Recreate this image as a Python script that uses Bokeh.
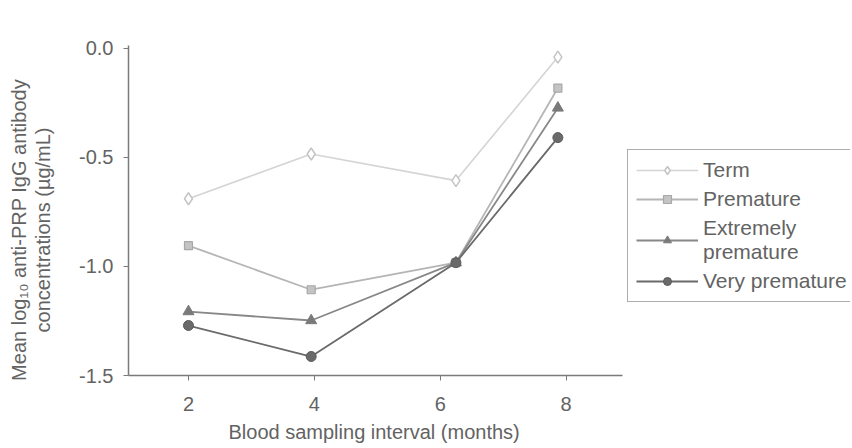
from bokeh.plotting import figure
from bokeh.models import Range1d, FixedTicker, Legend, LegendItem, PrintfTickFormatter, Title
from bokeh.embed import file_html
from bokeh.resources import INLINE

# ---- data ----
months = [2.0, 3.95, 6.25, 7.87]
term = [-0.69, -0.485, -0.607, -0.041]
premature = [-0.905, -1.107, -0.983, -0.183]
extremely = [-1.207, -1.248, -0.983, -0.274]
very = [-1.271, -1.413, -0.983, -0.41]
x_ticks = [2, 4, 6, 8]
y_ticks = [-1.5, -1.0, -0.5, 0.0]
x_title = "Blood sampling interval (months)"
y_title = "Mean log\u2081\u2080 anti-PRP IgG antibody\nconcentrations (\u00b5g/mL)"

FONT = "Liberation Sans"
TXT = "#636363"
FS = "20px"

p = figure(width=852, height=448, output_backend="svg", toolbar_location=None,
           x_range=Range1d(1.047, 12.52), y_range=Range1d(-1.5, 0.012))
p.min_border_left = 128
p.min_border_right = 2
p.min_border_top = 45
p.min_border_bottom = 72
p.outline_line_color = None
p.xgrid.visible = False
p.ygrid.visible = False
p.background_fill_color = "white"

for ax in (p.xaxis[0], p.yaxis[0]):
    ax.axis_line_color = "#7a7a7a"
    ax.axis_line_width = 1.5
    ax.major_tick_line_color = "#7a7a7a"
    ax.minor_tick_line_color = None
    ax.major_tick_in = 0
    ax.major_tick_out = 5
    ax.major_label_text_font = FONT
    ax.major_label_text_color = TXT
    ax.major_label_text_font_size = FS
    ax.axis_label_text_font = FONT
    ax.axis_label_text_color = TXT
    ax.axis_label_text_font_size = FS
    ax.axis_label_text_font_style = "normal"

p.xaxis.ticker = FixedTicker(ticks=x_ticks)
p.xaxis.bounds = (0.95, 8.894)
p.xaxis.major_label_standoff = 16

p.yaxis.ticker = FixedTicker(ticks=y_ticks)
p.yaxis.formatter = PrintfTickFormatter(format="%.1f")
pad = "\u00a0" * 7
p.yaxis.axis_label = "\n".join(line + pad for line in y_title.split("\n"))
p.yaxis.major_label_standoff = 10
p.yaxis.axis_label_standoff = 22
p.yaxis.axis_label_text_line_height = 1.1

# x-axis title under the tick labels, left-shifted as in the reference
xt = Title(text=x_title, align="left", offset=100, standoff=11,
           text_font=FONT, text_font_size=FS, text_font_style="normal",
           text_color=TXT)
p.add_layout(xt, "below")

r_t = p.line(months, term, line_color="#d4d4d4", line_width=1.6)
m_t = p.scatter(months, term, marker="diamond", size=12, fill_color="white",
                line_color="#c4c4c4", line_width=1.5)
r_p = p.line(months, premature, line_color="#b5b5b5", line_width=1.8)
m_p = p.scatter(months, premature, marker="square", size=8, fill_color="#c4c4c4",
                line_color="#a8a8a8", line_width=1.2)
r_e = p.line(months, extremely, line_color="#888888", line_width=1.8)
m_e = p.scatter(months, extremely, marker="triangle", size=11, fill_color="#7a7a7a",
                line_color="#7a7a7a")
r_v = p.line(months, very, line_color="#6a6a6a", line_width=1.8)
m_v = p.scatter(months, very, marker="circle", size=10, fill_color="#6a6a6a",
                line_color="#5a5a5a")

legend = Legend(items=[
    LegendItem(label="Term", renderers=[r_t, m_t]),
    LegendItem(label="Premature", renderers=[r_p, m_p]),
    LegendItem(label="Extremely\npremature", renderers=[r_e, m_e]),
    LegendItem(label="Very premature", renderers=[r_v, m_v]),
], location=(499, 73))
legend.label_text_font = FONT
legend.label_text_color = TXT
legend.label_text_font_size = "21px"
legend.glyph_width = 62
legend.label_standoff = 5
legend.spacing = 5
legend.padding = 8
legend.border_line_color = "#5a5a5a"
legend.border_line_width = 1.5
legend.background_fill_alpha = 1
p.add_layout(legend, "center")

open("out.html", "w").write(file_html(p, INLINE))
